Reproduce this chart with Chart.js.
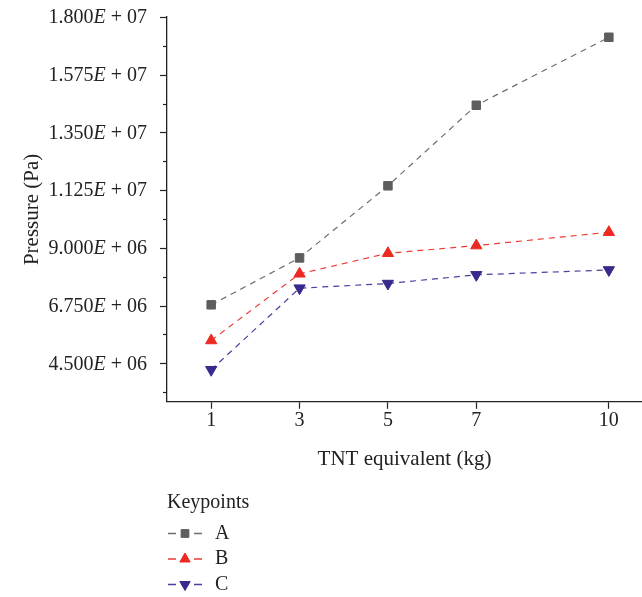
<!DOCTYPE html>
<html>
<head>
<meta charset="utf-8">
<script src="https://cdn.jsdelivr.net/npm/chart.js@4/dist/chart.umd.min.js"></script>
<style>
  html, body { margin: 0; padding: 0; background: #fff; overflow: hidden; }
  #wrap { width: 642px; height: 597px; }
</style>
</head>
<body>
<div id="wrap"><canvas id="chart"></canvas></div>
<script>
  const tntMass = [1, 3, 5, 7, 10];
  const keypointA = [6.78e6, 8.61e6, 1.142e7, 1.456e7, 1.721e7];
  const keypointB = [5.39e6, 7.99e6, 8.79e6, 9.09e6, 9.61e6];
  const keypointC = [4.25e6, 7.43e6, 7.61e6, 7.95e6, 8.14e6];
  const yMajorTicks = [4.5e6, 6.75e6, 9.0e6, 1.125e7, 1.35e7, 1.575e7, 1.8e7];
  const yMinorTicks = [3.375e6, 5.625e6, 7.875e6, 1.0125e7, 1.2375e7, 1.4625e7, 1.6875e7];

  const serif = "'Liberation Serif', 'DejaVu Serif', serif";
  const axisColor = "#222";

  function points(values) {
    return values.map((v, i) => ({ x: tntMass[i], y: v }));
  }

  function splitLabel(value) {
    const exp = Math.floor(Math.log10(value) + 1e-9);
    const mant = (value / Math.pow(10, exp)).toFixed(3);
    return [mant, "E", "+", String(exp).padStart(2, "0")];
  }

  // y tick labels with italic E, plus major/minor tick marks
  const yLabelsPlugin = {
    id: "yLabels",
    afterDraw(chart) {
      const { ctx } = chart;
      const y = chart.scales.y;
      const left = chart.chartArea.left;
      ctx.save();
      ctx.strokeStyle = axisColor;
      ctx.lineWidth = 1.2;
      yMajorTicks.forEach((v) => {
        const py = Math.round(y.getPixelForValue(v)) + 0.5;
        ctx.beginPath();
        ctx.moveTo(left - 7, py);
        ctx.lineTo(left, py);
        ctx.stroke();
      });
      yMinorTicks.forEach((v) => {
        const py = Math.round(y.getPixelForValue(v)) + 0.5;
        ctx.beginPath();
        ctx.moveTo(left - 4, py);
        ctx.lineTo(left, py);
        ctx.stroke();
      });

      ctx.fillStyle = "#222";
      ctx.textBaseline = "middle";
      ctx.textAlign = "left";
      const normal = "20px " + serif;
      const italic = "italic 20px " + serif;
      yMajorTicks.forEach((v) => {
        const [mant, e, plus, exp] = splitLabel(v);
        const py = y.getPixelForValue(v) + 1;
        ctx.font = normal;
        const wMant = ctx.measureText(mant).width;
        const wPlus = ctx.measureText(plus).width;
        const wExp = ctx.measureText(exp).width;
        ctx.font = italic;
        const wE = ctx.measureText(e).width;
        const gap = 5;
        const total = wMant + wE + gap + wPlus + gap + wExp;
        let x = left - 20 - total;
        ctx.font = normal;
        ctx.fillText(mant, x, py);
        x += wMant;
        ctx.font = italic;
        ctx.fillText(e, x, py);
        x += wE + gap;
        ctx.font = normal;
        ctx.fillText(plus, x, py);
        x += wPlus + gap;
        ctx.fillText(exp, x, py);
      });
      ctx.restore();
    },
  };

  // vertical legend under the x axis title
  const legendPlugin = {
    id: "keyLegend",
    afterDraw(chart) {
      const { ctx } = chart;
      const left = chart.chartArea.left;
      const base = chart.scales.x.bottom;
      ctx.save();
      ctx.font = "20px " + serif;
      ctx.fillStyle = "#222";
      ctx.textBaseline = "middle";
      ctx.textAlign = "left";
      ctx.fillText("Keypoints", left, base + 31);
      chart.data.datasets.forEach((ds, i) => {
        const cy = base + 61.5 + i * 25.5;
        const cx = left + 18;
        ctx.strokeStyle = ds.borderColor;
        ctx.lineWidth = 1.5;
        ctx.beginPath();
        ctx.moveTo(left + 1, cy);
        ctx.lineTo(left + 9, cy);
        ctx.moveTo(left + 27, cy);
        ctx.lineTo(left + 35, cy);
        ctx.stroke();
        ctx.fillStyle = ds.pointBackgroundColor;
        ctx.strokeStyle = ds.pointBorderColor;
        ctx.lineWidth = 1;
        Chart.helpers.drawPoint(ctx, {
          pointStyle: ds.pointStyle,
          rotation: ds.pointRotation || 0,
          radius: ds.pointRadius - 0.5,
          borderWidth: 1,
        }, cx, cy);
        ctx.fillStyle = "#222";
        ctx.fillText(ds.label, left + 48, cy);
      });
      ctx.restore();
    },
  };

  function series(label, values, line, marker, style, rotation) {
    return {
      label,
      data: points(values),
      borderColor: line,
      borderWidth: 1.2,
      borderDash: [6, 5],
      pointStyle: style,
      pointRotation: rotation,
      pointRadius: style === "rect" ? 6 : 6.5,
      pointBackgroundColor: marker,
      pointBorderColor: marker,
      pointBorderWidth: 1,
      tension: 0,
    };
  }

  new Chart(document.getElementById("chart"), {
    type: "line",
    data: {
      datasets: [
        series("A", keypointA, "#6e6e6e", "#5e5e5e", "rect", 0),
        series("B", keypointB, "#ee3a32", "#ec2a22", "triangle", 0),
        series("C", keypointC, "#4b3fa0", "#362a8c", "triangle", 180),
      ],
    },
    options: {
      responsive: true,
      maintainAspectRatio: false,
      animation: false,
      layout: {
        autoPadding: false,
        padding: { top: 17, right: 0, left: 0, bottom: 125 },
      },
      plugins: {
        legend: { display: false },
        tooltip: { enabled: false },
      },
      scales: {
        x: {
          type: "linear",
          min: 0,
          max: 10.75,
          afterBuildTicks: (scale) => {
            scale.ticks = tntMass.map((v) => ({ value: v }));
          },
          grid: {
            drawOnChartArea: false,
            drawTicks: true,
            tickLength: 7,
            tickWidth: 1.2,
            tickColor: axisColor,
          },
          border: { display: true, color: axisColor, width: 1.3 },
          ticks: {
            padding: 0,
            color: "#222",
            font: { family: serif, size: 20 },
            maxRotation: 0,
          },
          title: {
            display: true,
            text: "TNT equivalent (kg)",
            color: "#222",
            font: { family: serif, size: 21 },
            padding: { top: 14, bottom: 0 },
          },
        },
        y: {
          min: 3.0e6,
          max: 1.8e7,
          afterFit: (scale) => {
            scale.width = 167;
          },
          grid: { display: false },
          border: { display: true, color: axisColor, width: 1.3 },
          ticks: { display: false },
          title: {
            display: true,
            text: "Pressure (Pa)",
            color: "#222",
            font: { family: serif, size: 21 },
            padding: { top: 20, bottom: 0 },
          },
        },
      },
    },
    plugins: [yLabelsPlugin, legendPlugin],
  });
</script>
</body>
</html>
